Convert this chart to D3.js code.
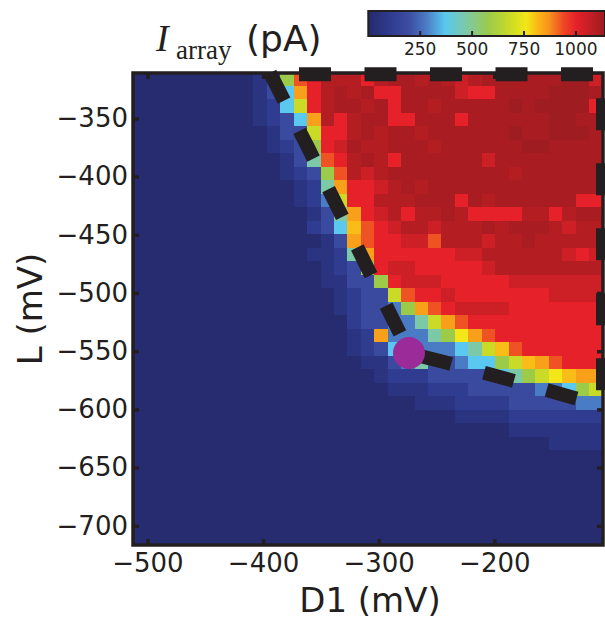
<!DOCTYPE html>
<html>
<head>
<meta charset="utf-8">
<script src="https://cdn.jsdelivr.net/npm/d3@7"></script>
<style>
  body { margin: 0; background: #ffffff; }
  svg { display: block; }
</style>
</head>
<body>
<svg id="chart" width="605" height="619"></svg>
<script>
// ---- Axis extents and ticks (mV) ----
const d1Extent = [-512.5, -106];
const lExtent = [-716.5, -311];
const d1Ticks = [-500, -400, -300, -200];
const lTicks = [-700, -650, -600, -550, -500, -450, -400, -350];

// ---- Colour bar ----
const cbarRange = [0, 1140];
const cbarTicks = [250, 500, 750, 1000];
const cmapStops = [0, 100, 200, 280, 370, 470, 580, 700, 760, 820, 870, 940, 1000, 1140];
const cmapColors = ['#262a6c', '#2f3a8e', '#3d4ea3', '#4a7cc6', '#5ac8ef', '#7cc9a8', '#9ccb4a',
                    '#d2de20', '#f4e719', '#fbb416', '#f7931e', '#ee4824', '#e6212a', '#9c1c20'];

// ---- I_array (pA) per level letter ----
const levelCodes = {
  '.': 15, a: 60, b: 110, c: 180, d: 280, e: 370, f: 470, g: 580, h: 680,
  i: 760, y: 810, j: 850, k: 930, l: 1000, m: 1050, n: 1095, o: 1115, p: 1135
};

// I_array grid, one string per L row (top row = highest L).
// Each string holds the right-hand cells of the row; cells to its left are background ('.').
const nCols = 35;
const gridRows = [
  "acgklnnnlnoononmnooooooppm",
  "acejlnonolloooomlloooopppo",
  "abehlnoonoloonooooopoppppl",
  "abcejnlnoollooolooooooppoo",
  "acchllnonoonoooooopoopppo",
  "abcglmonnooonooooooppoooo",
  "acfklnonloooooomoooooooo",
  "abcgknmnooooooooonoooooo",
  "abfjllmnonooooooooooooo",
  "abdhllnnnooolonooooooll",
  "acfjlmnlnnonllllnnlnoo",
  "bceyklmnnmnnnonooonmnn",
  "acjkllmmknnnmnnonnnnn",
  "aabfjllllllmmnnnnnnmlm",
  "abcglmmlllllmnnnnnnnn",
  "aaccglmmmlllllmmmmmmm",
  "abcchkllmlllllllmmmm",
  "abccdgjklmmmmlllllll",
  "bccddfhjkllllllllll",
  "abjdddfgijkllllllll",
  "abceedddefhykllllll",
  "aacdfccdeeghyjklll",
  "abbbcccccefghiyjj",
  "aaabbbcccccddegh",
  "aaabbbbcccccdd",
  "aaaabbbbbbb",
  "aaaaaaa",
  "aaaa",
  "", "", "", "", "", "", ""
];

// Threshold boundary (D1, L) in mV and the operating point
const boundaryD1 = [-394, -360.7, -335.2, -310.1, -273, -243.5, -189, -133.7, -106];
const boundaryL  = [-311, -375.9, -427, -477.7, -552, -559.3, -573.9, -589.3, -597.1];
const outlineTopL = -312;
const outlineRightD1 = -106;
const markerD1 = -273.8;
const markerL = -551.5;

// ---- Layout ----
const plot = { left: 133, right: 603, top: 73, bottom: 545 };
const cb = { left: 368.3, right: 605, top: 11, bottom: 36 };
const ink = '#231f20';
const sans = "'DejaVu Sans', sans-serif";
const serif = "'Liberation Serif', 'DejaVu Serif', serif";

const svg = d3.select('#chart');
const x = d3.scaleLinear().domain(d1Extent).range([plot.left, plot.right]);
const y = d3.scaleLinear().domain(lExtent).range([plot.bottom, plot.top]);
const color = d3.scaleLinear().domain(cmapStops).range(cmapColors)
  .interpolate(d3.interpolateRgb).clamp(true);

// ---- Heat map cells ----
const nRows = gridRows.length;
const dD1 = (d1Extent[1] - d1Extent[0]) / nCols;
const dL = (lExtent[1] - lExtent[0]) / nRows;
const cells = [];
gridRows.forEach((row, r) => {
  const full = row.padStart(nCols, '.');
  for (let c = 0; c < nCols; c++) {
    cells.push({ d1: d1Extent[0] + c * dD1, l: lExtent[1] - r * dL, v: levelCodes[full[c]] });
  }
});

svg.append('clipPath').attr('id', 'plot-clip')
  .append('rect')
  .attr('x', plot.left).attr('y', plot.top)
  .attr('width', plot.right - plot.left).attr('height', plot.bottom - plot.top);

// background under the cells avoids any hairline seams
svg.append('rect')
  .attr('x', plot.left).attr('y', plot.top)
  .attr('width', plot.right - plot.left).attr('height', plot.bottom - plot.top)
  .attr('fill', color(levelCodes['.']));

svg.append('g').attr('clip-path', 'url(#plot-clip)')
  .attr('shape-rendering', 'crispEdges')
  .selectAll('rect').data(cells).join('rect')
  .attr('x', d => Math.floor(x(d.d1)))
  .attr('y', d => Math.floor(y(d.l)))
  .attr('width', d => Math.ceil(x(d.d1 + dD1)) - Math.floor(x(d.d1)))
  .attr('height', d => Math.ceil(y(d.l - dL)) - Math.floor(y(d.l)))
  .attr('fill', d => color(d.v));

// ---- Axes (inward ticks on all four sides) ----
const fmt = d3.format('d');
function styleAxis(g) {
  g.select('.domain').remove();
  g.selectAll('.tick line').attr('stroke', ink).attr('stroke-width', 3.5);
  g.selectAll('.tick text').attr('fill', ink).style('font-family', sans).style('font-size', '26px');
}
svg.append('g').attr('transform', `translate(0,${plot.bottom})`)
  .call(d3.axisBottom(x).tickValues(d1Ticks).tickSize(-6).tickPadding(9).tickFormat(fmt))
  .call(styleAxis);
svg.append('g').attr('transform', `translate(${plot.left},0)`)
  .call(d3.axisLeft(y).tickValues(lTicks).tickSize(-6).tickPadding(5).tickFormat(fmt))
  .call(styleAxis);
svg.append('g').attr('transform', `translate(0,${plot.top})`)
  .call(d3.axisTop(x).tickValues(d1Ticks).tickSize(-6).tickFormat(''))
  .call(styleAxis);
svg.append('g').attr('transform', `translate(${plot.right},0)`)
  .call(d3.axisRight(y).tickValues(lTicks).tickSize(-6).tickFormat(''))
  .call(styleAxis);

// Frame
svg.append('rect')
  .attr('x', plot.left).attr('y', plot.top)
  .attr('width', plot.right - plot.left).attr('height', plot.bottom - plot.top)
  .attr('fill', 'none').attr('stroke', ink).attr('stroke-width', 3.5);

// ---- Dashed outline of the high-current region ----
const boundary = boundaryD1.map((d, i) => [x(d), y(boundaryL[i])]);
const line = d3.line();
const dashStyle = p => p.attr('fill', 'none').attr('stroke', ink)
  .attr('stroke-width', 14).attr('stroke-linecap', 'butt');

svg.append('path').attr('d', line(boundary)).call(dashStyle)
  .attr('stroke-dasharray', '31 34').attr('stroke-dashoffset', 0);

const corner = [x(outlineRightD1), y(outlineTopL)];
svg.append('path')
  .attr('d', line([corner, [x(outlineRightD1), boundary[boundary.length - 1][1]]]))
  .call(dashStyle).attr('stroke-dasharray', '32 33').attr('stroke-dashoffset', 41);
svg.append('path')
  .attr('d', line([corner, [boundary[0][0], y(outlineTopL)]]))
  .call(dashStyle).attr('stroke-dasharray', '32 33.5').attr('stroke-dashoffset', 55.5);

// Operating point
svg.append('circle')
  .attr('cx', x(markerD1)).attr('cy', y(markerL)).attr('r', 16)
  .attr('fill', '#9b2b99');

// ---- Axis labels ----
svg.append('text')
  .attr('x', (plot.left + plot.right) / 2 + 2).attr('y', 612)
  .attr('text-anchor', 'middle').attr('fill', ink)
  .style('font-family', sans).style('font-size', '34px')
  .text('D1 (mV)');
svg.append('text')
  .attr('transform', `translate(42,${(plot.top + plot.bottom) / 2})rotate(-90)`)
  .attr('text-anchor', 'middle').attr('fill', ink)
  .style('font-family', sans).style('font-size', '34px')
  .text('L (mV)');

// ---- Colour bar ----
const cbx = d3.scaleLinear().domain(cbarRange).range([cb.left, cb.right]);
const grad = svg.append('defs').append('linearGradient')
  .attr('id', 'cbar-grad').attr('x1', '0%').attr('x2', '100%').attr('y1', '0%').attr('y2', '0%');
grad.selectAll('stop').data(cmapStops).join('stop')
  .attr('offset', v => `${(100 * (v - cbarRange[0]) / (cbarRange[1] - cbarRange[0])).toFixed(2)}%`)
  .attr('stop-color', v => color(v));
svg.append('rect')
  .attr('x', cb.left).attr('y', cb.top)
  .attr('width', cb.right - cb.left).attr('height', cb.bottom - cb.top)
  .attr('fill', 'url(#cbar-grad)').attr('stroke', ink).attr('stroke-width', 2);
svg.append('g').selectAll('line').data(cbarTicks).join('line')
  .attr('x1', v => cbx(v)).attr('x2', v => cbx(v))
  .attr('y1', cb.bottom).attr('y2', cb.bottom - 5)
  .attr('stroke', ink).attr('stroke-width', 2);
svg.append('g').selectAll('text').data(cbarTicks).join('text')
  .attr('x', v => cbx(v)).attr('y', 55)
  .attr('text-anchor', 'middle').attr('fill', ink)
  .style('font-family', sans).style('font-size', '17px')
  .text(v => v);

// ---- Colour bar title: I_array (pA) ----
const title = svg.append('text').attr('fill', ink);
title.append('tspan').attr('x', 156).attr('y', 51)
  .style('font-family', serif).style('font-style', 'italic').style('font-size', '38px')
  .text('I');
title.append('tspan').attr('x', 176).attr('y', 59)
  .style('font-family', serif).style('font-size', '27px')
  .text('array');
title.append('tspan').attr('x', 246).attr('y', 51)
  .style('font-family', sans).style('font-size', '36px')
  .text('(pA)');
</script>
</body>
</html>
